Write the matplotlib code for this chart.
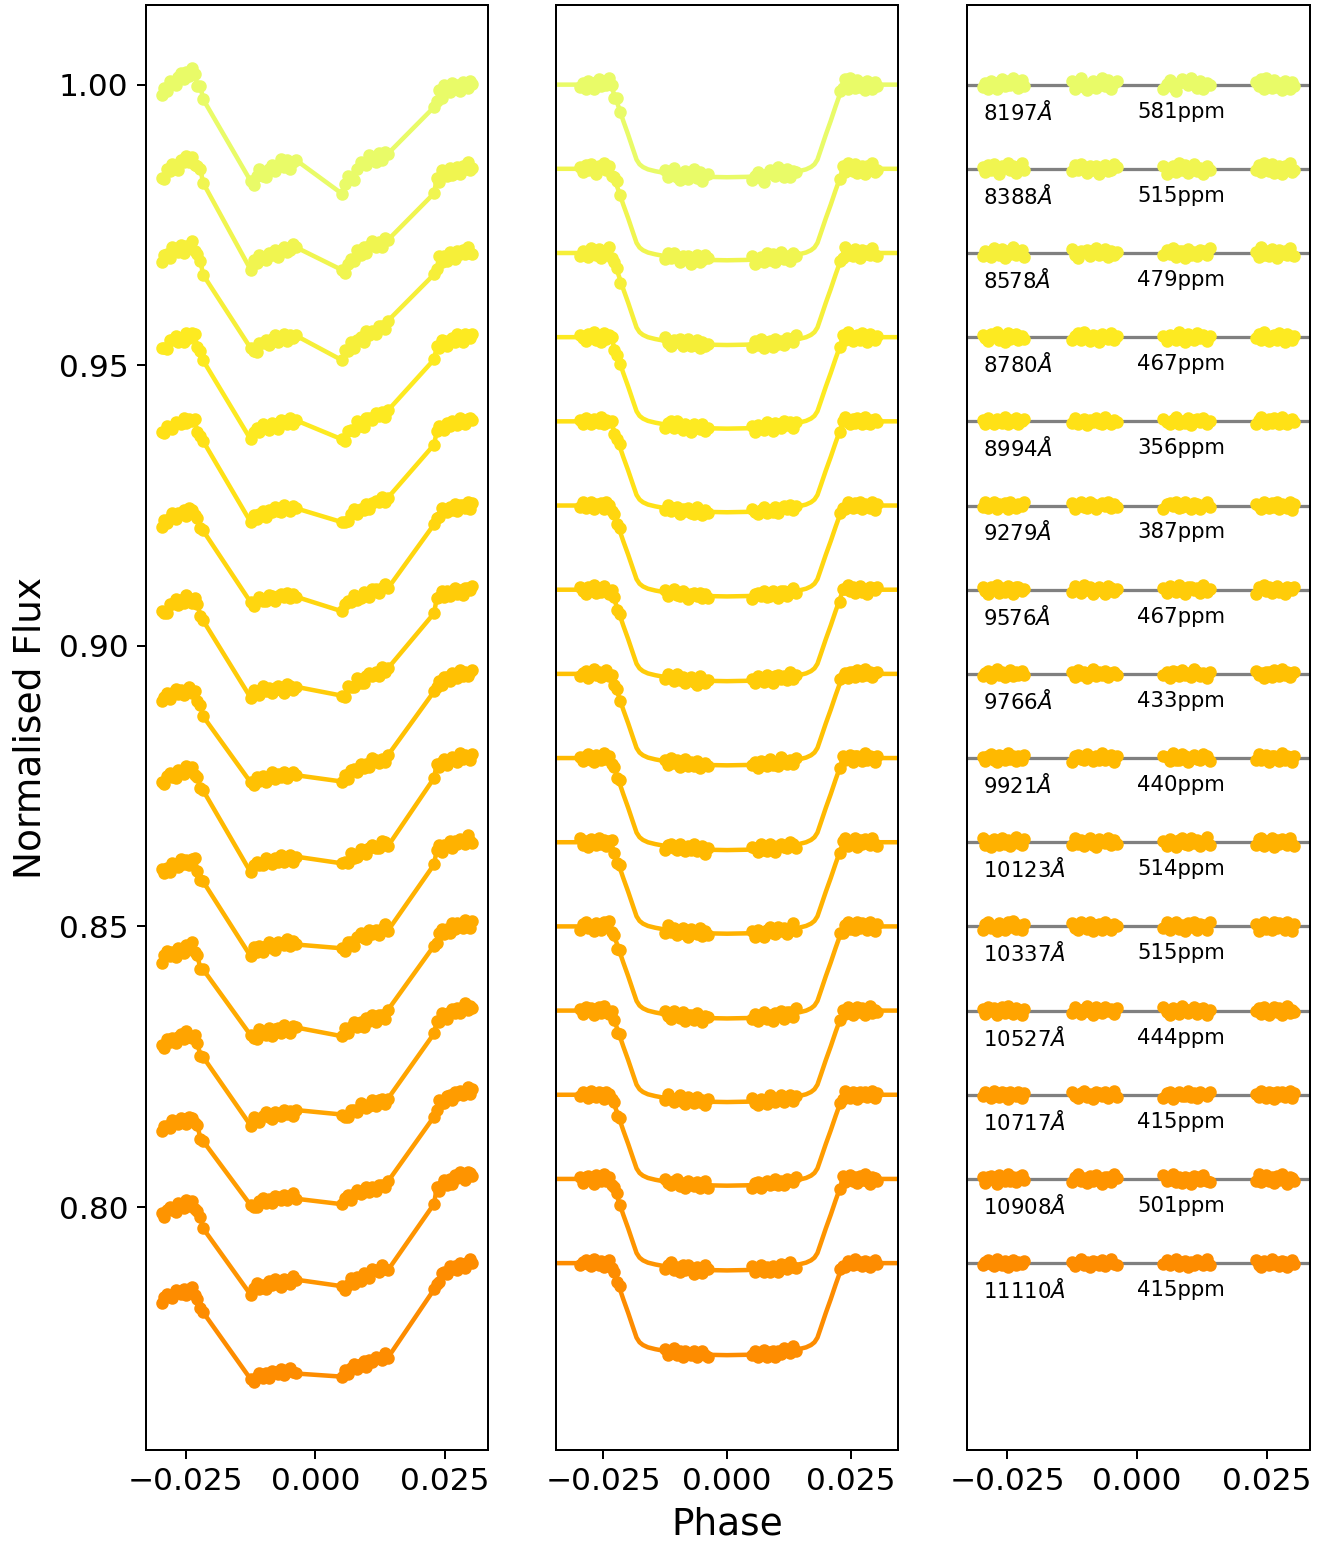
import numpy as np
import matplotlib.pyplot as plt

# exposure phases, 16 exposures in each of four HST orbits
phase = np.array([
    -0.0297, -0.0292, -0.0286, -0.0281, -0.0276, -0.0270, -0.0265, -0.0260,
    -0.0254, -0.0249, -0.0244, -0.0238, -0.0233, -0.0228, -0.0222, -0.0217,
    -0.0125, -0.0119, -0.0113, -0.0108, -0.0102, -0.0096, -0.0090, -0.0084,
    -0.0079, -0.0073, -0.0067, -0.0061, -0.0055, -0.0050, -0.0044, -0.0038,
    0.0051, 0.0057, 0.0063, 0.0069, 0.0075, 0.0081, 0.0087, 0.0093,
    0.0098, 0.0104, 0.0110, 0.0116, 0.0122, 0.0128, 0.0134, 0.0140,
    0.0229, 0.0234, 0.0239, 0.0244, 0.0249, 0.0254, 0.0259, 0.0264,
    0.0269, 0.0274, 0.0279, 0.0284, 0.0289, 0.0294, 0.0299, 0.0303])
n_orb = 16

wavelength = [8197, 8388, 8578, 8780, 8994, 9279, 9576, 9766, 9921,
              10123, 10337, 10527, 10717, 10908, 11110]
rms_ppm = [581, 515, 479, 467, 356, 387, 467, 433, 440,
           514, 515, 444, 415, 501, 415]
offset = [1.000, 0.985, 0.970, 0.955, 0.940, 0.925, 0.910, 0.895, 0.880,
          0.865, 0.850, 0.835, 0.820, 0.805, 0.790]
depth = [0.0165, 0.0163, 0.0164, 0.0163, 0.0162, 0.0162, 0.0163, 0.0163,
         0.0164, 0.0163, 0.0164, 0.0163, 0.0162, 0.0163, 0.0164]

# transit model shape (fraction of depth)
model_phase = [-0.0346, -0.0235, -0.0228, -0.0220, -0.0210, -0.0200, -0.0190,
               -0.0183, -0.0177, -0.0170, -0.0160, -0.0145, -0.0125, -0.0100,
               -0.0070, -0.0040, 0.0, 0.0040, 0.0070, 0.0100, 0.0125, 0.0145,
               0.0160, 0.0170, 0.0177, 0.0183, 0.0190, 0.0200, 0.0210, 0.0220,
               0.0228, 0.0235, 0.0346]
model_shape = [0, 0, 0.11, 0.23, 0.39, 0.54, 0.70,
               0.81, 0.86, 0.89, 0.915, 0.935, 0.955, 0.972,
               0.987, 0.996, 1.0, 0.996, 0.987, 0.972, 0.955, 0.935,
               0.915, 0.89, 0.86, 0.81, 0.70, 0.54, 0.39, 0.23,
               0.11, 0, 0]

# raw systematics (ppm) at start / end of each orbit, per channel
sys_start = [[-1430, -1990, -2350, -2860],
             [-1960, -2000, -2400, -2550],
             [-1070, -2000, -2400, -2400],
             [-2320, -2100, -2300, -2300],
             [-2140, -2200, -2300, -2200],
             [-3570, -2200, -2200, -2100],
             [-4300, -3270, -2980, -1960],
             [-4500, -4050, -2860, -2140],
             [-4410, -4000, -2900, -1730],
             [-5500, -4200, -3000, -2000],
             [-5900, -4300, -3000, -2300],
             [-6400, -4500, -2900, -2400],
             [-6250, -4640, -2860, -2500],
             [-6480, -4520, -3630, -2620],
             [-6660, -5300, -3810, -3690]]
sys_end = [[2300, 2470, 3360, 360],
           [2200, 2000, 2800, 420],
           [1400, 1500, 2500, 400],
           [700, 1300, 2000, 300],
           [600, 800, 1500, 300],
           [-500, 180, 770, 250],
           [-1070, -1190, 1190, 120],
           [-2730, -1670, 410, 230],
           [-1730, -1500, 300, 360],
           [-3000, -1700, 0, 500],
           [-3500, -1800, -300, 600],
           [-4000, -1900, -500, 700],
           [-4000, -1960, -770, 800],
           [-4110, -1840, -360, 950],
           [-4590, -2910, -1130, 180]]
# orbit ramp (hook) shape
hook = [0, .15, .28, .39, .49, .57, .64, .70, .75, .80, .84, .88, .92, .95, .98, 1.0]

# residuals in units of 100 ppm
residual_rows = [
    "-3 2 -5 4 1 -6 3 7 -2 5 -1 8 3 -4 6 -2 4 -5 2 8 -3 -7 1 5 -4 3 9 -2 6 -6 2 4 "
    "-5 1 6 -3 -8 2 7 4 -1 9 3 -4 5 -6 2 -1 3 -2 7 -5 9 1 -4 6 -3 2 -7 4 -1 -6 3 -2",
    "2 -4 5 -1 6 -3 -6 4 1 7 -2 3 -5 2 8 -1 -3 5 -2 6 1 -5 3 -1 4 -6 2 5 -3 -1 6 2 "
    "4 -6 1 3 -4 7 -2 5 -5 2 6 -3 1 -7 3 -1 -2 5 -4 8 1 -3 6 -5 2 4 -6 3 -1 7 -4 -2",
    "-4 3 1 -5 6 2 -2 5 -6 3 -1 7 -3 2 4 -5 5 -2 -6 3 1 4 -4 2 6 -3 -1 5 -5 3 -2 1 "
    "-3 4 -1 6 -5 2 3 -6 5 -2 1 -4 4 2 -3 6 1 -5 8 -2 3 -4 5 2 -6 4 -1 3 -3 6 -2 -4",
    "3 -1 -5 4 2 6 -3 1 -6 5 -2 3 4 -4 1 -2 -4 2 5 -3 6 -1 -5 3 1 -6 4 2 -2 5 -3 1 "
    "2 -5 3 1 -4 6 -2 -6 4 2 -3 5 -1 3 -5 2 -1 4 -3 6 2 -5 1 3 -4 5 -2 -6 4 1 -3 2",
    "2 -3 4 -1 -4 3 1 -2 5 -3 2 -1 4 -4 1 3 -2 4 -3 1 3 -5 2 -1 4 -2 -3 5 1 -4 2 -1 "
    "3 -1 -4 2 5 -3 1 -2 4 -5 2 3 -1 4 -3 1 -3 2 5 -1 -4 3 -2 4 1 -3 5 -2 -4 2 3 -1",
    "-2 4 -3 1 5 -4 2 -1 3 -5 4 1 -3 2 -1 4 3 -4 1 5 -2 -3 4 2 -5 1 3 -1 4 -3 2 -2 "
    "-4 2 3 -1 5 -3 -2 4 1 -5 3 2 -4 1 4 -2 2 -1 -4 5 1 -3 3 -2 4 -5 2 1 -3 4 -6 2",
    "4 -2 -5 3 1 6 -4 2 -3 5 -1 -6 3 4 -2 1 -3 5 2 -4 6 -1 3 -5 1 4 -2 -6 5 2 -3 1 "
    "2 -4 5 1 -3 6 -2 -5 3 4 -1 2 -4 6 -3 1 -5 3 1 6 -2 4 -4 2 5 -3 1 -6 3 2 -1 4",
    "-3 1 4 -5 2 6 -2 3 -4 1 5 -3 2 -1 4 -2 2 -4 5 -1 3 -5 1 6 -3 2 -2 4 -4 1 3 -1 "
    "-1 3 -5 4 2 -3 5 -2 1 -4 6 2 -3 1 -5 3 4 -2 1 -5 3 2 -4 5 -1 -3 6 -2 2 -4 1 3",
    "1 -4 3 5 -2 -5 4 2 -3 6 -1 3 -4 2 -2 4 -5 2 4 -1 -3 5 1 -4 3 -2 6 -3 1 4 -5 2 "
    "3 1 -4 6 -2 -3 5 2 -5 1 4 -1 -3 5 2 -4 -2 5 -3 1 4 -5 2 3 -1 -4 6 -2 3 1 -5 2",
    "5 -3 2 -6 4 1 -4 6 -2 3 -5 2 7 -1 -3 4 -4 6 -2 3 -5 1 5 -3 -6 4 2 -1 6 -4 3 -2 "
    "2 -5 4 1 -6 3 6 -2 -4 5 -1 3 -5 2 7 -3 -3 4 6 -5 2 -1 5 -6 3 -2 4 1 -4 6 -2 -5",
    "-5 3 6 -2 1 -6 4 2 -4 5 -1 7 -3 2 -5 3 4 -2 -5 6 1 -3 5 -6 2 3 -4 6 -1 -5 3 1 "
    "-2 5 -4 1 6 -3 2 -6 4 -1 5 -5 3 2 -4 6 3 -6 2 5 -3 1 -5 6 -2 4 -1 -4 5 2 -6 3",
    "2 -4 5 -1 3 -5 1 4 -3 6 -2 -4 3 1 -5 2 -3 5 1 -4 2 6 -2 -5 4 1 -3 5 -1 2 -4 3 "
    "4 -2 -5 3 1 -4 6 2 -3 -1 5 -4 2 3 -5 1 -1 3 -4 5 2 -6 1 4 -2 3 -5 2 6 -3 1 -2",
    "-2 3 1 -4 5 -1 -3 4 2 -5 3 1 -2 4 -4 2 3 -1 -4 2 5 -3 1 -5 4 2 -2 3 -4 1 5 -3 "
    "-4 2 3 -5 1 4 -2 -1 5 -3 2 -4 3 1 -2 4 1 -3 5 -2 -4 3 2 -5 4 -1 3 -3 1 5 -4 2",
    "3 -5 2 4 -1 -6 5 1 -3 6 -2 3 -4 2 5 -1 -4 2 6 -3 1 -5 4 -2 5 -1 -6 3 2 -4 6 1 "
    "5 -3 -1 6 -4 2 -5 3 1 -6 4 2 -3 5 -2 -4 -2 6 -4 1 5 -3 2 -5 4 -1 6 -2 -6 3 1 -3",
    "-3 2 4 -1 -4 5 1 -2 3 -5 2 4 -3 1 -1 3 2 -4 1 5 -3 2 -5 3 1 -2 4 -4 2 5 -1 -3 "
    "-1 4 -3 2 5 -4 1 3 -5 2 -2 4 1 -3 5 -2 4 -2 -5 3 1 -3 5 -1 2 -4 3 1 -5 2 4 -1",
]
res_unit = 1.4e-4


def orbit_systematics(start, end):
    '''
    Build the ramp for every exposure from the start / end levels of each orbit
    '''
    out = []
    for k in range(4):
        for j in range(n_orb):
            out.append(start[k] + (end[k] - start[k]) * hook[j])
    return np.array(out) * 1e-6


#main():
plt.rcParams['font.family'] = 'DejaVu Sans'
colors = plt.cm.Wistia(np.linspace(0.05, 0.9, len(wavelength)))
residuals = np.array([[float(v) for v in row.split()] for row in residual_rows]) * res_unit
shape_at_data = np.interp(phase, model_phase, model_shape)
model_phase = np.array(model_phase)
model_shape = np.array(model_shape)

fig = plt.figure(figsize=(1333 / 180, 1546 / 180), dpi=180)
ax1 = fig.add_axes([146 / 1333, 0.0621, 342 / 1333, 0.9347])
ax2 = fig.add_axes([556 / 1333, 0.0621, 342 / 1333, 0.9347], sharey=ax1)
ax3 = fig.add_axes([967 / 1333, 0.0621, 343 / 1333, 0.9347], sharey=ax1)

for i in range(len(wavelength)):
    c = colors[i]
    fit = offset[i] - depth[i] * shape_at_data
    detrended = fit + residuals[i]
    raw = detrended + orbit_systematics(sys_start[i], sys_end[i])
    # raw light curves
    ax1.plot(phase, raw, '-o', color=c, lw=1.8, ms=4)
    # detrended data and transit model
    ax2.plot(model_phase, offset[i] - depth[i] * model_shape, '-', color=c, lw=1.8)
    ax2.plot(phase, detrended, 'o', color=c, ms=4)
    # residuals
    ax3.axhline(offset[i], color='grey', lw=1.3, zorder=1)
    ax3.plot(phase, offset[i] + residuals[i], 'o', color=c, ms=4, zorder=2)
    ax3.text(-0.0296, offset[i] - 0.0048, r'%d$\AA$' % wavelength[i],
             fontsize=8.5, va='center', ha='left')
    ax3.text(0.0, offset[i] - 0.0048, '%dppm' % rms_ppm[i],
             fontsize=8.5, va='center', ha='left')

ax1.set_ylim(0.7567, 1.0142)
ax1.set_yticks([0.80, 0.85, 0.90, 0.95, 1.00])
ax1.set_xlim(-0.0327, 0.0333)
ax2.set_xlim(-0.0346, 0.0346)
ax3.set_xlim(-0.0327, 0.0333)
for ax in [ax1, ax2, ax3]:
    ax.set_xticks([-0.025, 0.0, 0.025])
    ax.tick_params(labelsize=12.5)
for ax in [ax2, ax3]:
    ax.tick_params(axis='y', left=False, labelleft=False)

ax1.set_ylabel('Normalised Flux', fontsize=15)
ax2.set_xlabel('Phase', fontsize=15)

plt.savefig('out.png', dpi=180)
